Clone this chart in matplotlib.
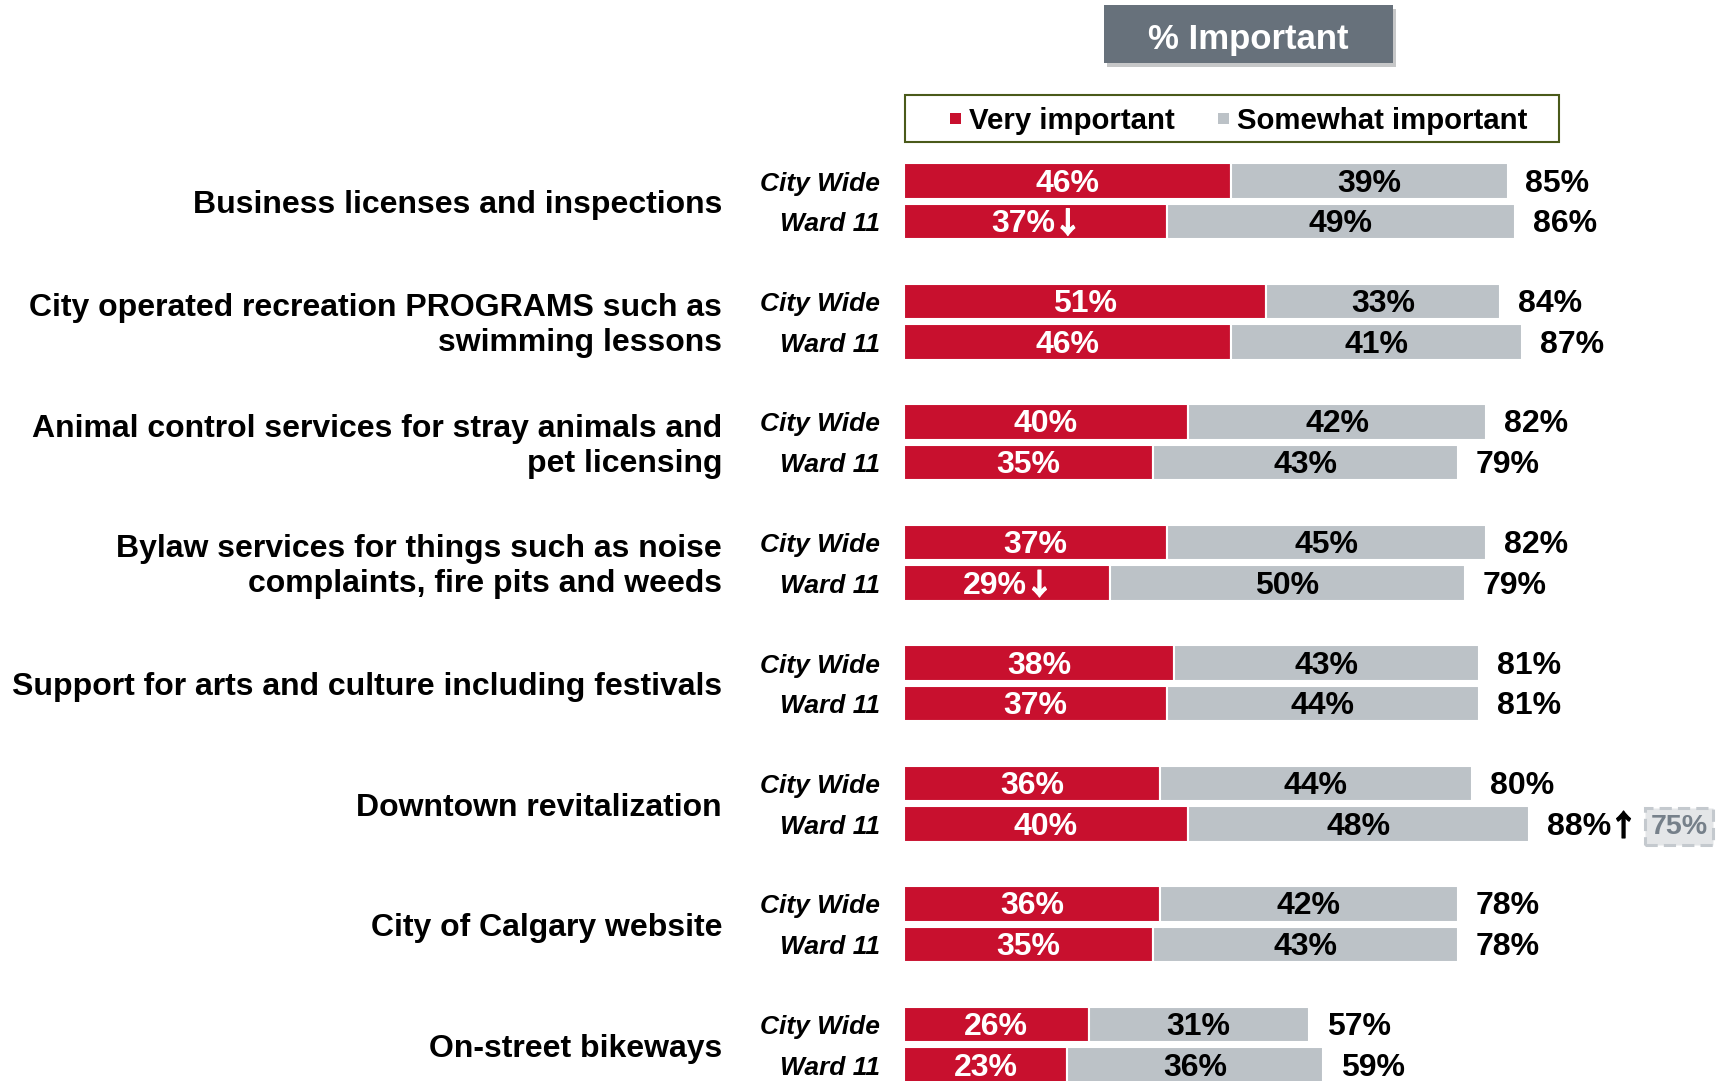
import matplotlib
matplotlib.use("Agg")
import matplotlib.pyplot as plt
from matplotlib.patches import Rectangle, FancyBboxPatch
from matplotlib import patheffects as pe

plt.rcParams['font.family'] = ['Liberation Sans', 'DejaVu Sans']

categories = [
    "Business licenses and inspections",
    "City operated recreation PROGRAMS such as\nswimming lessons",
    "Animal control services for stray animals and\npet licensing",
    "Bylaw services for things such as noise\ncomplaints, fire pits and weeds",
    "Support for arts and culture including festivals",
    "Downtown revitalization",
    "City of Calgary website",
    "On-street bikeways",
]
series_labels = ["City Wide", "Ward 11"]

cw_very = [46, 51, 40, 37, 38, 36, 36, 26]
cw_some = [39, 33, 42, 45, 43, 44, 42, 31]
cw_total = [85, 84, 82, 82, 81, 80, 78, 57]

w_very = [37, 46, 35, 29, 37, 40, 35, 23]
w_some = [49, 41, 43, 50, 44, 48, 43, 36]
w_total = [86, 87, 79, 79, 81, 88, 78, 59]

# significance markers ("" none, "↓" lower, "↑" higher)
w_very_sig = ["↓", "", "", "↓", "", "", "", ""]
w_total_sig = ["", "", "", "", "", "↑", "", ""]
w_total_compare = [None, None, None, None, None, 75, None, None]

legend_labels = ["Very important", "Somewhat important"]
header = "% Important"

RED = "#C8102E"
GRAY = "#BCC2C7"

W, H = 1720, 1081
fig = plt.figure(figsize=(W / 100, H / 100), dpi=100)
ax = fig.add_axes([0, 0, 1, 1])
ax.axis('off')

PX = 7.1      # pixels per percent
X0 = 904      # pixel of 0%
Y0 = 181      # pixel of first City Wide bar centre
PITCH = 120.5
ax.set_xlim(-X0 / PX, (W - X0) / PX)
ax.set_ylim((H - Y0) / PITCH, -Y0 / PITCH)

off = 40.6 / PITCH
bh = 35.5 / PITCH
dy = 2.5 / PITCH          # text visual centring nudge
n = len(categories)
y_cw = [i for i in range(n)]
y_w = [i + off for i in range(n)]

for ys, very, some in [(y_cw, cw_very, cw_some), (y_w, w_very, w_some)]:
    ax.barh(ys, very, height=bh, color=RED, edgecolor='white', linewidth=1.5)
    ax.barh(ys, some, left=very, height=bh, color=GRAY, edgecolor='white', linewidth=1.5)

FS = 23
AW = 24 / PX   # arrow width in data units
ARROW_KW = dict(family=['Noto Sans CJK SC', 'DejaVu Sans'], fontsize=21, fontweight='bold')


def add_arrow(txt, arrow, color):
    ax.annotate(arrow, xy=(1, 0.5), xycoords=txt, xytext=(-1.5, 0),
                textcoords='offset points', ha='left', va='center',
                color=color, path_effects=[pe.withStroke(linewidth=0.9, foreground=color)],
                **ARROW_KW)


gap = 18 / PX
for i in range(n):
    # City Wide
    ax.text(cw_very[i] / 2, y_cw[i] + dy, f"{cw_very[i]}%", ha='center', va='center',
            color='white', fontsize=FS, fontweight='bold')
    ax.text(cw_very[i] + cw_some[i] / 2, y_cw[i] + dy, f"{cw_some[i]}%", ha='center',
            va='center', color='black', fontsize=FS, fontweight='bold')
    ax.text(cw_very[i] + cw_some[i] + gap, y_cw[i] + dy, f"{cw_total[i]}%", ha='left',
            va='center', color='black', fontsize=FS, fontweight='bold')
    # Ward 11
    xc = w_very[i] / 2 - (AW / 2 if w_very_sig[i] else 0)
    t = ax.text(xc, y_w[i] + dy, f"{w_very[i]}%", ha='center', va='center',
                color='white', fontsize=FS, fontweight='bold')
    if w_very_sig[i]:
        add_arrow(t, w_very_sig[i], 'white')
    ax.text(w_very[i] + w_some[i] / 2, y_w[i] + dy, f"{w_some[i]}%", ha='center',
            va='center', color='black', fontsize=FS, fontweight='bold')
    t = ax.text(w_very[i] + w_some[i] + gap, y_w[i] + dy, f"{w_total[i]}%", ha='left',
                va='center', color='black', fontsize=FS, fontweight='bold')
    if w_total_sig[i]:
        add_arrow(t, w_total_sig[i], 'black')
    if w_total_compare[i] is not None:
        ax.text((1679 - X0) / PX, y_w[i] + dy, f"{w_total_compare[i]}%", ha='center',
                va='center', color='#76808A', fontsize=20.5, fontweight='bold',
                bbox=dict(boxstyle='square,pad=0.18', fc='#E4E6E8', ec='#C4C9CE',
                          ls=(0, (4, 2)), lw=2.2))
    # series labels
    ax.text(-(X0 - 880) / PX, y_cw[i] + dy, series_labels[0], ha='right', va='center',
            fontsize=19, fontweight='bold', fontstyle='italic')
    ax.text(-(X0 - 880) / PX, y_w[i] + dy, series_labels[1], ha='right', va='center',
            fontsize=19, fontweight='bold', fontstyle='italic')
    # category label
    ax.text(-(X0 - 722) / PX, i + off / 2 + 4 / PITCH, categories[i], ha='right',
            va='center', fontsize=23, fontweight='bold', linespacing=1.22)

# header box
hb = FancyBboxPatch((1104 / W, 1 - 63 / H), 289 / W, 58 / H, boxstyle='square,pad=0',
                    transform=fig.transFigure, fc='#67717B', ec='none',
                    path_effects=[pe.SimplePatchShadow(offset=(2, -3), alpha=0.25), pe.Normal()])
fig.add_artist(hb)
fig.text(1248 / W, 1 - 39 / H, header, ha='center', va='center', color='white',
         fontsize=25, fontweight='bold')

# legend box
lb = Rectangle((905 / W, 1 - 142 / H), 654 / W, 47 / H, transform=fig.transFigure,
               fc='white', ec='#4A5A1A', lw=1.5)
fig.add_artist(lb)
for cx, tx, col, lab in [(955, 969, RED, legend_labels[0]), (1223, 1237, GRAY, legend_labels[1])]:
    fig.add_artist(Rectangle(((cx - 5.5) / W, 1 - (118.5 + 5.5) / H), 11 / W, 11 / H,
                             transform=fig.transFigure, fc=col, ec='none'))
    fig.text(tx / W, 1 - 121 / H, lab, ha='left', va='center', fontsize=21.2,
             fontweight='bold', color='black')

fig.savefig("out.png", dpi=100, facecolor='white')
